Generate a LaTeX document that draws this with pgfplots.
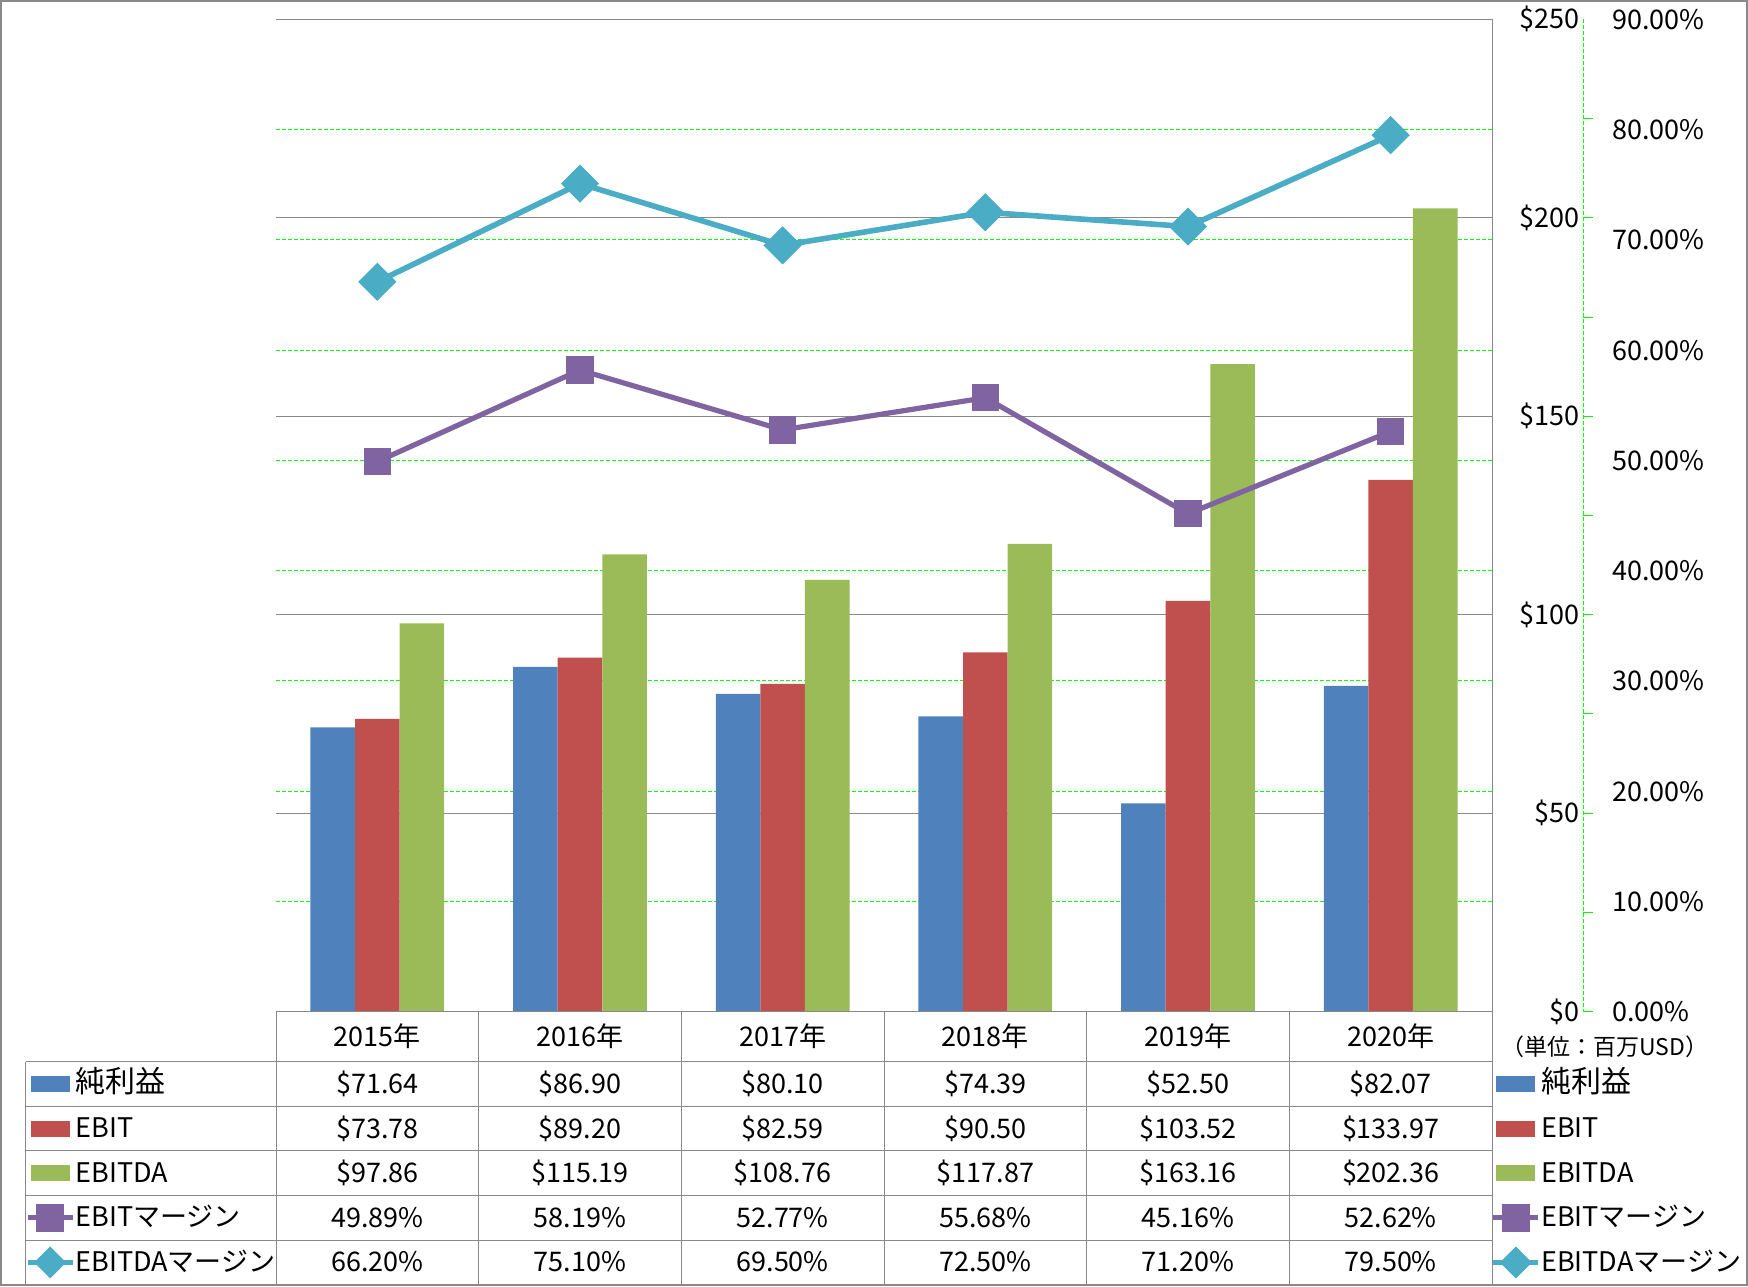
\documentclass[border=0pt]{standalone}
\usepackage{pgfplots}
\pgfplotsset{compat=1.18}
\usepackage{fontspec}
\setmainfont{Noto Sans CJK JP}
\definecolor{cBlue}{HTML}{4F81BD}
\definecolor{cRed}{HTML}{C0504D}
\definecolor{cGreen}{HTML}{9BBB59}
\definecolor{cPurple}{HTML}{8064A2}
\definecolor{cTeal}{HTML}{4BACC6}
\definecolor{cGrid}{HTML}{00FF00}
\definecolor{cLine}{HTML}{898989}
\newcommand{\fs}{\fontsize{13.5}{15}\selectfont}
\newcommand{\fb}{\fontsize{15}{15}\selectfont}
\pgfplotsset{
  barleg/.style={legend image code/.code={\fill[##1, draw=none] (1.5pt,-4pt) rectangle (21pt,4pt);}},
  lineleg/.style={legend image code/.code={\draw[##1, mark repeat=2, mark phase=2] plot coordinates {(0pt,0pt) (11.25pt,0pt) (22.5pt,0pt)};}},
  linelegsmall/.style={legend image code/.code={\draw[##1, mark size=5.4pt, mark repeat=2, mark phase=2] plot coordinates {(0pt,0pt) (11.25pt,0pt) (22.5pt,0pt)};}},
  base/.style={at={(138pt,-505.85pt)}, anchor=south west, scale only axis,
    width=608pt, height=496.2pt, xmin=-0.5, xmax=5.5,
    axis line style={draw=none}, tick style={draw=none}, major tick length=0pt,
    xtick=\empty, ytick pos=right, yticklabel pos=right, clip=false,
    tick label style={font=\fs}},
  legstyle/.style={legend cell align=left,
    legend style={draw=none, fill=none, inner sep=0pt, outer sep=0pt, row sep=0pt,
      column sep=0pt, anchor=north west,
      nodes={inner sep=0pt, text height=15.6pt, text depth=6.7pt}, font=\fs}},
  purpleplot/.style={cPurple, line width=2.6pt, mark=square*, mark size=6.6pt,
    mark options={line width=0.5pt, rounded corners=1.5pt}},
  tealplot/.style={cTeal, line width=2.8pt, mark=square*, mark size=6.5pt,
    mark options={line width=0.5pt, rotate=45, rounded corners=1.5pt}},
}
\begin{document}
\begin{tikzpicture}
\begin{scope}[x=0.5pt,y=-0.5pt]
\path[use as bounding box] (0,0) rectangle (1748,1286);
\end{scope}

% percent grid, percent labels, table key legend
\begin{axis}[base, ymin=0, ymax=90, ytick={0,10,...,90},
  yticklabels={0.00\%,10.00\%,20.00\%,30.00\%,40.00\%,50.00\%,60.00\%,70.00\%,80.00\%,90.00\%},
  ymajorgrids, grid style={cGrid, dash pattern=on 2pt off 1pt, line width=0.5pt},
  yticklabel style={anchor=west, inner sep=0pt, xshift=60pt},
  legstyle, legend style={at={(axis description cs:-0.2065,-0.0504)}}]
\addlegendimage{barleg, fill=cBlue}
\addlegendentry{\fb 純利益}
\addlegendimage{barleg, fill=cRed}
\addlegendentry{EBIT}
\addlegendimage{barleg, fill=cGreen}
\addlegendentry{EBITDA}
\addlegendimage{lineleg, purpleplot}
\addlegendentry{EBITマージン}
\addlegendimage{linelegsmall, tealplot}
\addlegendentry{EBITDAマージン}
\end{axis}

% bars
\begin{axis}[base, ymin=0, ymax=250, ytick={0,50,...,250},
  yticklabels={\$0,\$50,\$100,\$150,\$200,\$250},
  ymajorgrids, grid style={cLine, line width=0.6pt},
  yticklabel style={anchor=east, inner sep=0pt, xshift=44pt},
  ybar=0pt, bar width=0.22]
\addplot[fill=cBlue, draw=none] coordinates {(0,71.64) (1,86.90) (2,80.10) (3,74.39) (4,52.50) (5,82.07)};
\addplot[fill=cRed, draw=none] coordinates {(0,73.78) (1,89.20) (2,82.59) (3,90.50) (4,103.52) (5,133.97)};
\addplot[fill=cGreen, draw=none] coordinates {(0,97.86) (1,115.19) (2,108.76) (3,117.87) (4,163.16) (5,202.36)};
\end{axis}

% margin lines + right legend
\begin{axis}[base, ymin=0, ymax=90, ytick=\empty,
  legstyle, legend style={at={(axis description cs:0.9988,-0.0504)}}]
\addlegendimage{barleg, fill=cBlue}
\addlegendentry{\fb 純利益}
\addlegendimage{barleg, fill=cRed}
\addlegendentry{EBIT}
\addlegendimage{barleg, fill=cGreen}
\addlegendentry{EBITDA}
\addlegendimage{lineleg, purpleplot}
\addlegendentry{EBITマージン}
\addlegendimage{linelegsmall, tealplot}
\addlegendentry{EBITDAマージン}
\addplot[purpleplot, forget plot] coordinates {(0,49.89) (1,58.19) (2,52.77) (3,55.68) (4,45.16) (5,52.62)};
\addplot[tealplot, forget plot] coordinates {(0,66.20) (1,75.10) (2,69.50) (3,72.50) (4,71.20) (5,79.50)};
\end{axis}

\begin{scope}[x=0.5pt,y=-0.5pt]
% secondary axis line
\draw[cGrid, dash pattern=on 2pt off 1pt, line width=0.5pt] (1583,19.3) -- (1583,1011.7);
\foreach \k in {0,...,9} \draw[cGrid, line width=0.5pt] (1583,{1011.7-99.24*\k}) -- (1593,{1011.7-99.24*\k});
% frame and table lines
\draw[cLine, line width=0.5pt] (1492,19.3) -- (1492,1286);
\draw[cLine, line width=0.5pt] (276,1011.7) -- (1492,1011.7);
\foreach \yy in {1061.7,1106.3,1150.9,1195.5,1240.1} \draw[cLine, line width=0.5pt] (25.7,\yy) -- (1492,\yy);
\draw[cLine, line width=0.5pt] (25.7,1061.7) -- (25.7,1286);
\foreach \k in {0,...,5} \draw[cLine, line width=0.5pt] ({276+202.67*\k},1011.7) -- ({276+202.67*\k},1286);
\draw[cLine, line width=1pt] (1,1) rectangle (1747,1285);
% table text
\tikzset{tv/.style={anchor=base, inner sep=0pt, font=\fs}}
\foreach \t [count=\i from 0] in {2015年,2016年,2017年,2018年,2019年,2020年}
  \node[tv] at ({276+202.67*(\i+0.5)},1046) {\t};
\foreach \t [count=\i from 0] in {\$71.64,\$86.90,\$80.10,\$74.39,\$52.50,\$82.07}
  \node[tv] at ({276+202.67*(\i+0.5)},1093.5) {\t};
\foreach \t [count=\i from 0] in {\$73.78,\$89.20,\$82.59,\$90.50,\$103.52,\$133.97}
  \node[tv] at ({276+202.67*(\i+0.5)},1138.1) {\t};
\foreach \t [count=\i from 0] in {\$97.86,\$115.19,\$108.76,\$117.87,\$163.16,\$202.36}
  \node[tv] at ({276+202.67*(\i+0.5)},1182.7) {\t};
\foreach \t [count=\i from 0] in {49.89\%,58.19\%,52.77\%,55.68\%,45.16\%,52.62\%}
  \node[tv] at ({276+202.67*(\i+0.5)},1227.3) {\t};
\foreach \t [count=\i from 0] in {66.20\%,75.10\%,69.50\%,72.50\%,71.20\%,79.50\%}
  \node[tv] at ({276+202.67*(\i+0.5)},1271.9) {\t};
\node[inner sep=0pt, font=\fontsize{11.5}{12}\selectfont] at (1605,1047) {（単位：百万USD）};
\end{scope}
\end{tikzpicture}
\end{document}
